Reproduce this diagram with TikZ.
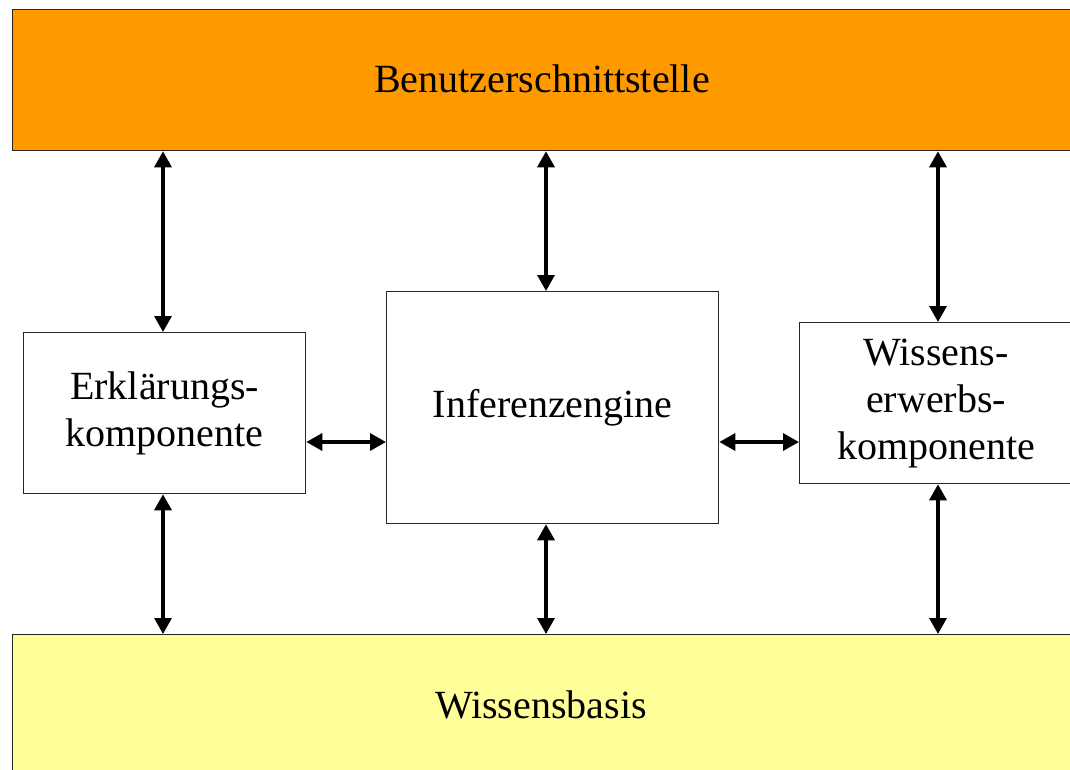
\documentclass[tikz,border=0pt]{standalone}
\usepackage{fontspec}
\setmainfont{Liberation Serif}
\usetikzlibrary{arrows.meta}
\definecolor{uiorange}{HTML}{FF9900}
\definecolor{kbyellow}{HTML}{FFFF99}
\begin{document}
\begin{tikzpicture}[x=1pt,y=-1pt,
  box/.style={draw=black!85, line width=1.3pt, inner sep=0pt, align=center,
    font=\fontsize{40}{47}\selectfont, anchor=north west},
  lbl/.style={inner sep=0pt, align=center, font=\fontsize{40}{47}\selectfont},
  link/.style={line width=3.3pt, {Triangle[width=17pt,length=16pt]}-{Triangle[width=17pt,length=16pt]}}]
\useasboundingbox (0,0) rectangle (1070,769);
\clip (0,0) rectangle (1070,769);
\fill[white] (0,0) rectangle (1070,769);

% layers and components (the wide ones run past the right margin)
\node[box, fill=uiorange, minimum width=1100pt, minimum height=141pt] (ui) at (12,9) {};
\node[box, fill=kbyellow, minimum width=1100pt, minimum height=160pt] (kb) at (12,634) {};
\node[box, fill=white, minimum width=282pt, minimum height=161pt] (erk) at (23,332) {Erklärungs-\\komponente};
\node[box, fill=white, minimum width=332pt, minimum height=232pt] (inf) at (386,291) {Inferenzengine};
\node[box, fill=white, minimum width=320pt, minimum height=161pt] (wek) at (799,322) {};

% labels of the wide boxes
\node[lbl] (uilbl) at (542,79) {Benutzerschnittstelle};
\node[lbl] (kblbl) at (541,705) {Wissensbasis};
\node[lbl] (weklbl) at ([xshift=137pt]wek.west) {Wissens-\\erwerbs-\\komponente};

% connectors
\coordinate (hy) at (0,442);
\coordinate (xl) at (163,0);
\coordinate (xm) at (546,0);
\coordinate (xr) at (938,0);
\draw[link] (xl |- erk.north) -- (xl |- ui.south);
\draw[link] (xl |- erk.south) -- (xl |- kb.north);
\draw[link] (xm |- inf.north) -- (xm |- ui.south);
\draw[link] (xm |- inf.south) -- (xm |- kb.north);
\draw[link] (xr |- wek.north) -- (xr |- ui.south);
\draw[link] (xr |- wek.south) -- (xr |- kb.north);
\draw[link] (erk.east |- hy) -- (inf.west |- hy);
\draw[link] (inf.east |- hy) -- (wek.west |- hy);
\end{tikzpicture}
\end{document}
